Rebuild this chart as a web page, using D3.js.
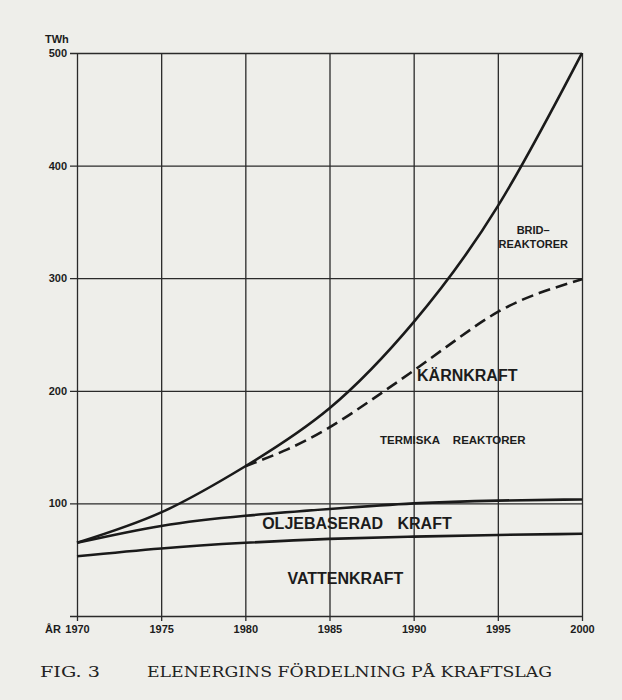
<!DOCTYPE html>
<html>
<head>
<meta charset="utf-8">
<title>Elenergins fördelning på kraftslag</title>
<script src="https://d3js.org/d3.v7.min.js"></script>
<style>
	body { margin: 0; background: #eeeeea; }
	svg { display: block; background: #eeeeea; }
	.tick text, .lbl { font-family: 'Liberation Sans', Arial, sans-serif; font-weight: bold; fill: #1c1c1c; }
	.tick line { stroke: #2a2a2a; stroke-width: 1.3; }
	.domain { display: none; }
	.curve { fill: none; stroke: #1a1a1a; stroke-width: 2.6; }
	.caption { font-family: 'DejaVu Serif', 'Liberation Serif', serif; font-size: 15px; fill: #222; }
</style>
</head>
<body>
<script>
	// values (TWh)
	var years = [1970, 1975, 1980, 1985, 1990, 1995, 2000];
	var vattenkraft = [53, 60, 65, 68.5, 70.5, 72, 73];
	var oljebaserad = [65, 80, 89, 95, 100, 102.5, 103.5];
	var bridreaktorer = [65, 92, 133, 184.5, 261, 364, 500];  // kärnkraft incl. bridreaktorer
	var termiskaYears = [1980, 1982.5, 1985, 1987.5, 1990, 1992.5, 1995, 1997.5, 2000];
	var termiska = [133, 148, 167.5, 192, 218, 245, 270, 287, 299]; // only termiska reaktorer
	var yTicks = [0, 100, 200, 300, 400, 500];

	var W = 622, H = 700;

	var svg = d3.select("body").append("svg")
		.attr("width", W)
		.attr("height", H);

	var x = d3.scaleLinear().domain([1970, 2000]).range([77, 582]);
	var y = d3.scaleLinear().domain([0, 500]).range([616, 53]);

	// vertical grid lines + year labels
	var xAxis = svg.append("g")
		.attr("transform", "translate(0," + y(500) + ")")
		.call(d3.axisBottom(x)
			.tickValues(years)
			.tickFormat(d3.format("d"))
			.tickSize(y(0) - y(500) + 5)
			.tickPadding(4));
	xAxis.selectAll("text").style("font-size", "11px");

	// horizontal grid lines + TWh labels
	var yAxis = svg.append("g")
		.attr("transform", "translate(" + x(2000) + ",0)")
		.call(d3.axisLeft(y)
			.tickValues(yTicks)
			.tickFormat(function(d) { return d === 0 ? "" : d; })
			.tickSize(x(2000) - x(1970) + 7)
			.tickPadding(3));
	yAxis.selectAll("text").style("font-size", "11px");

	svg.append("text").attr("class", "lbl")
		.attr("x", x(1970) - 32).attr("y", y(500) - 10)
		.style("font-size", "11px")
		.text("TWh");

	svg.append("text").attr("class", "lbl")
		.attr("x", x(1970) - 16).attr("y", y(0) + 17)
		.attr("text-anchor", "end")
		.style("font-size", "11px")
		.text("ÅR");

	// curves
	var line = d3.line()
		.x(function(d) { return x(d[0]); })
		.y(function(d) { return y(d[1]); })
		.curve(d3.curveNatural);

	function pairs(xs, vs) { return xs.map(function(v, i) { return [v, vs[i]]; }); }

	svg.append("path").attr("class", "curve").attr("d", line(pairs(years, vattenkraft)));
	svg.append("path").attr("class", "curve").attr("d", line(pairs(years, oljebaserad)));
	svg.append("path").attr("class", "curve").attr("d", line(pairs(years, bridreaktorer)));
	svg.append("path").attr("class", "curve")
		.attr("d", line(pairs(termiskaYears, termiska)))
		.style("stroke-dasharray", "12,6");

	// labels in the plot
	function label(txt, yr, val, size, anchor, ws) {
		svg.append("text").attr("class", "lbl")
			.attr("x", x(yr)).attr("y", y(val))
			.attr("dy", "0.35em")
			.attr("text-anchor", anchor || "start")
			.style("font-size", size + "px")
			.style("word-spacing", (ws || 0) + "px")
			.text(txt);
	}
	label("BRID–", 1997.1, 343, 11, "middle");
	label("REAKTORER", 1997.1, 330, 11, "middle");
	label("KÄRNKRAFT", 1990.2, 214, 16);
	label("TERMISKA REAKTORER", 1988.0, 156, 11.5, "start", 10);
	label("OLJEBASERAD KRAFT", 1981.0, 82, 16, "start", 10);
	label("VATTENKRAFT", 1982.5, 33, 16);

	// caption
	svg.append("text").attr("class", "caption")
		.attr("x", 40).attr("y", 677)
		.attr("textLength", 60)
		.attr("lengthAdjust", "spacingAndGlyphs")
		.text("FIG. 3");
	svg.append("text").attr("class", "caption")
		.attr("x", 147).attr("y", 677)
		.attr("textLength", 405)
		.attr("lengthAdjust", "spacingAndGlyphs")
		.text("ELENERGINS FÖRDELNING PÅ KRAFTSLAG");
</script>
</body>
</html>
